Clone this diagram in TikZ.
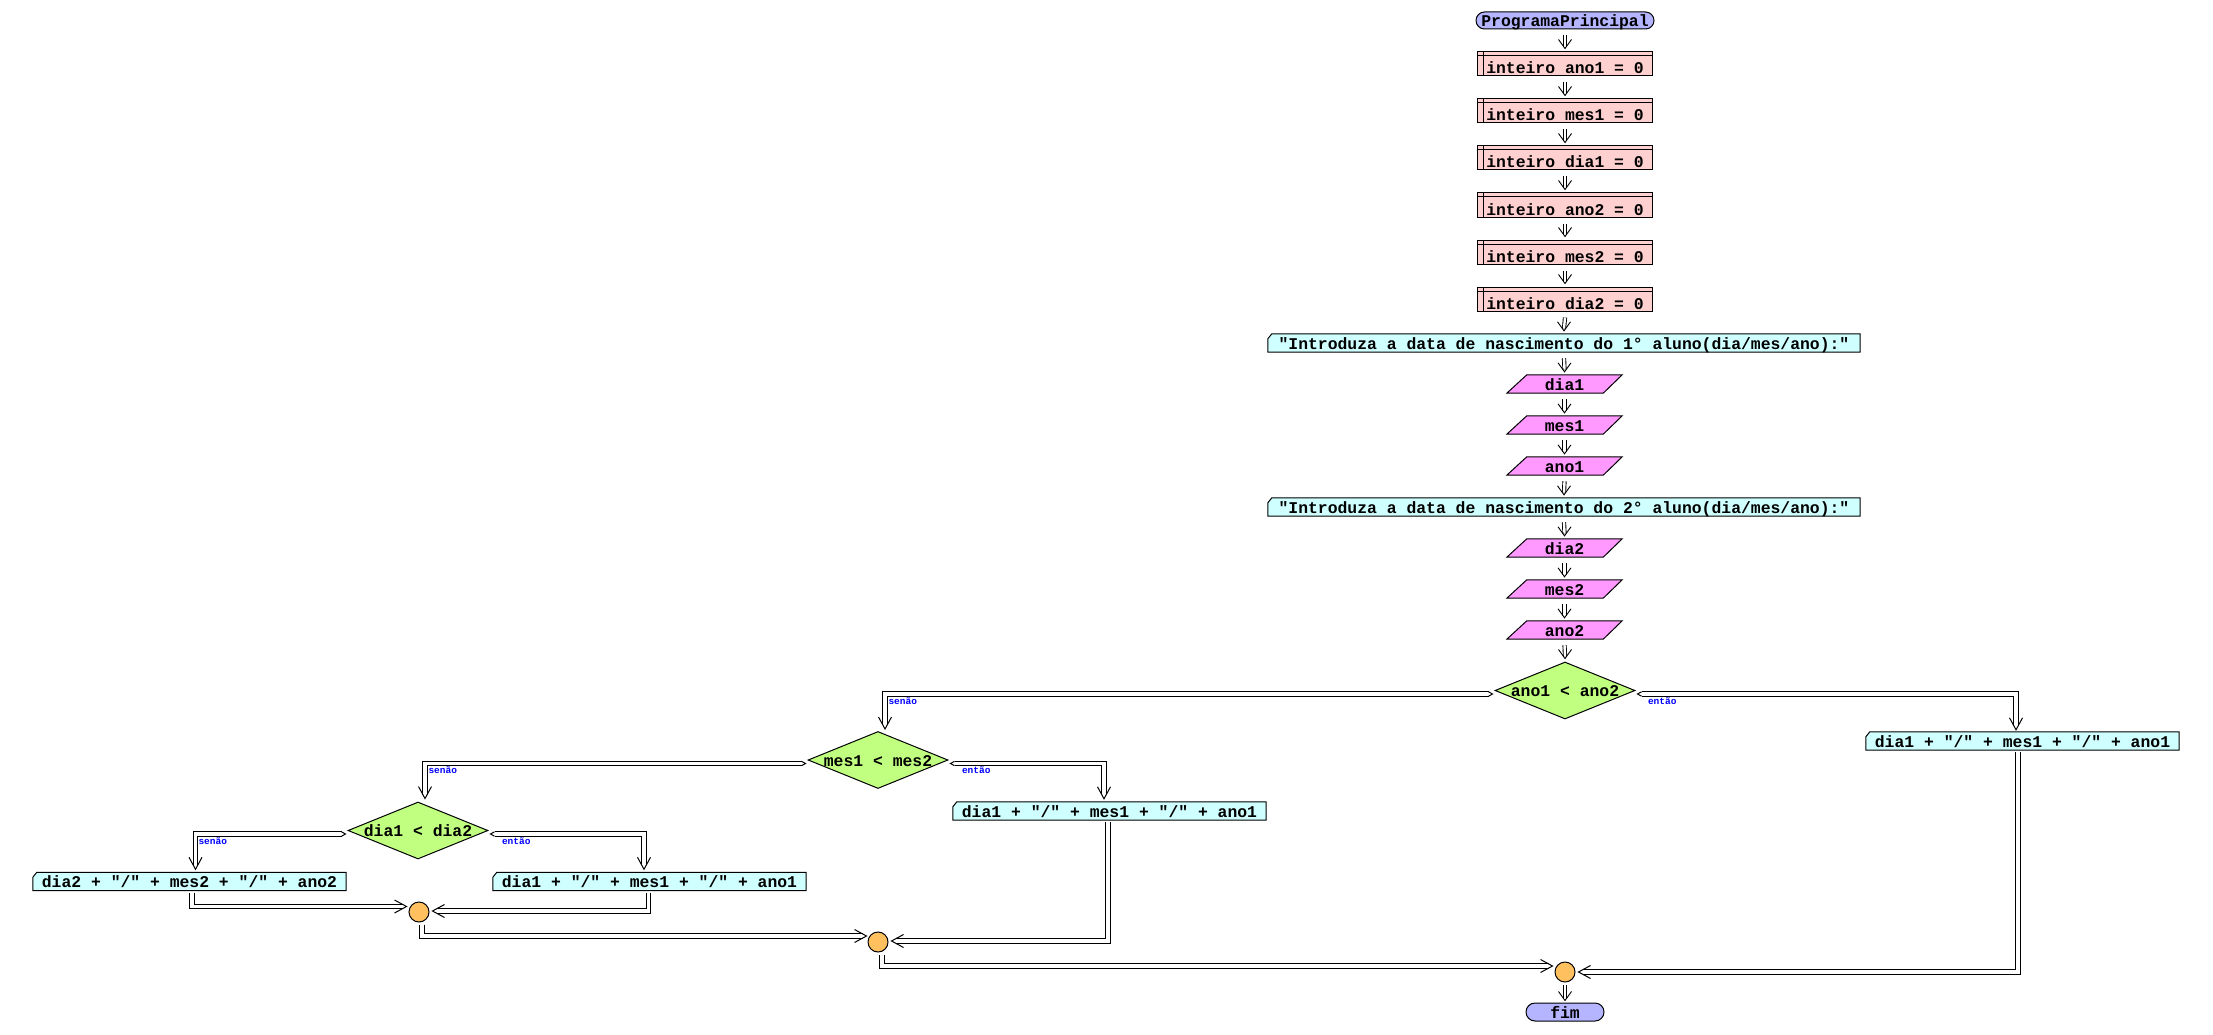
\documentclass[tikz,border=0pt]{standalone}
\usepackage{fontspec}
\setmonofont{Liberation Mono}
\usetikzlibrary{shapes.geometric,backgrounds}
\definecolor{termfill}{RGB}{180,180,255}
\definecolor{varfill}{RGB}{255,208,208}
\definecolor{outfill}{RGB}{208,255,255}
\definecolor{infill}{RGB}{255,153,255}
\definecolor{decfill}{RGB}{192,255,128}
\definecolor{joinfill}{RGB}{255,192,96}
\definecolor{lblblue}{RGB}{0,0,255}
\newcommand{\diagfont}{\ttfamily\bfseries\fontsize{16.4pt}{18pt}\selectfont}
\newcommand{\tagfont}{\ttfamily\bfseries\fontsize{9.5pt}{10pt}\selectfont}
\tikzset{
  basebox/.style={inner sep=0pt, font=\diagfont, text height=12pt, text depth=0pt},
  termbox/.style={basebox, draw, line width=1pt, fill=termfill, rounded corners=8.5pt, minimum height=17pt},
  varbox/.style={basebox, draw, line width=1pt, fill=varfill, minimum width=175pt, minimum height=24pt, text height=20pt,
    path picture={
      \draw[line width=1pt] ([xshift=6pt]path picture bounding box.north west) -- ([xshift=6pt]path picture bounding box.south west);
      \draw[line width=1pt] ([yshift=-4pt]path picture bounding box.north west) -- ([yshift=-4pt]path picture bounding box.north east);}},
  outbox/.style={basebox, minimum height=18pt},
  inbox/.style={basebox, minimum width=115pt, minimum height=18pt},
  outshape/.style={draw, line width=1pt, fill=outfill},
  inshape/.style={draw, line width=1pt, fill=infill},
  decision/.style={basebox, diamond, draw, line width=1pt, fill=decfill, aspect=2.45, minimum width=140pt, minimum height=57pt},
  joinpt/.style={circle, draw, line width=1pt, fill=joinfill, minimum size=20pt, inner sep=0pt},
  flowshaft/.style={double, double distance=2.4pt, line width=0.9pt},
  branchshaft/.style={double, double distance=3.4pt, line width=1pt, line join=miter},
  tipline/.style={line width=1pt, line join=miter},
  tagtext/.style={font=\tagfont, text=lblblue, inner sep=0pt, anchor=north west},
}
% open chevron heads (arms back from the tip point)
\newcommand{\tipD}[1]{\draw[tipline] ([shift={(-6.5pt,12pt)}]#1) -- (#1) -- ([shift={(6.5pt,12pt)}]#1);}
\newcommand{\tipR}[1]{\draw[tipline] ([shift={(-12pt,6.5pt)}]#1) -- (#1) -- ([shift={(-12pt,-6.5pt)}]#1);}
\newcommand{\tipL}[1]{\draw[tipline] ([shift={(12pt,6.5pt)}]#1) -- (#1) -- ([shift={(12pt,-6.5pt)}]#1);}
% pointed starts of branch lines
\newcommand{\startR}[1]{\draw[tipline] ([shift={(4pt,2.2pt)}]#1) -- (#1) -- ([shift={(4pt,-2.2pt)}]#1);}
\newcommand{\startL}[1]{\draw[tipline] ([shift={(-4pt,2.2pt)}]#1) -- (#1) -- ([shift={(-4pt,-2.2pt)}]#1);}
% short straight arrow between stacked nodes
\newcommand{\flowdown}[2]{%
  \path ([yshift=3pt]#2.north) coordinate (ftip);
  \draw[flowshaft] ([yshift=-6pt]#1.south) -- ([yshift=2.3pt]ftip);
  \draw[tipline, line width=0.9pt] ([shift={(-6.5pt,9pt)}]ftip) -- (ftip) -- ([shift={(6.5pt,9pt)}]ftip);}
\begin{document}
\begin{tikzpicture}[x=1pt,y=-1pt]
\useasboundingbox (0,0) rectangle (2213,1035);
% main column
\node[termbox, minimum width=178pt] (pp) at (1565,20.5) {ProgramaPrincipal};
\node[varbox] (v1) at (1565,64) {inteiro ano1 = 0};
\node[varbox] (v2) at (1565,111) {inteiro mes1 = 0};
\node[varbox] (v3) at (1565,158) {inteiro dia1 = 0};
\node[varbox] (v4) at (1565,205) {inteiro ano2 = 0};
\node[varbox] (v5) at (1565,252) {inteiro mes2 = 0};
\node[varbox] (v6) at (1565,299) {inteiro dia2 = 0};
\node[outbox, minimum width=592pt] (out1) at (1564,343) {"Introduza a data de nascimento do 1° aluno(dia/mes/ano):"};
\node[inbox] (in1) at (1564.5,384) {dia1};
\node[inbox] (in2) at (1564.5,425) {mes1};
\node[inbox] (in3) at (1564.5,466) {ano1};
\node[outbox, minimum width=592pt] (out2) at (1564,507) {"Introduza a data de nascimento do 2° aluno(dia/mes/ano):"};
\node[inbox] (in4) at (1564.5,548) {dia2};
\node[inbox] (in5) at (1564.5,589) {mes2};
\node[inbox] (in6) at (1564.5,630) {ano2};
\node[decision] (d1) at (1565,690.5) {ano1 < ano2};
\node[outbox, minimum width=313pt] (rbox) at (2022.5,741) {dia1 + "/" + mes1 + "/" + ano1};
\node[decision] (d2) at (878,760) {mes1 < mes2};
\node[outbox, minimum width=313pt] (mbox) at (1109.5,811) {dia1 + "/" + mes1 + "/" + ano1};
\node[decision] (d3) at (418,830.5) {dia1 < dia2};
\node[outbox, minimum width=313pt] (lbox) at (189.5,881.5) {dia2 + "/" + mes2 + "/" + ano2};
\node[outbox, minimum width=313pt] (lbox2) at (649.5,881.5) {dia1 + "/" + mes1 + "/" + ano1};
\node[joinpt] (c1) at (419,912) {};
\node[joinpt] (c2) at (878,942) {};
\node[joinpt] (c3) at (1565,972) {};
\node[termbox, minimum width=78pt, minimum height=18pt, rounded corners=9pt] (fim) at (1565,1012) {fim};
% shapes behind texts
\begin{scope}[on background layer]
  \foreach \n in {out1,out2,rbox,mbox,lbox,lbox2}
    \path[outshape] ([xshift=4pt]\n.north west) -- (\n.north east) -- (\n.south east) -- (\n.south west) -- ([yshift=-5pt]\n.north west) -- cycle;
  \foreach \n in {in1,in2,in3,in4,in5,in6}
    \path[inshape] ([xshift=20pt]\n.north west) -- (\n.north east) -- ([xshift=-19pt]\n.south east) -- (\n.south west) -- cycle;
\end{scope}
% straight flow
\foreach \a/\b in {pp/v1,v1/v2,v2/v3,v3/v4,v4/v5,v5/v6,v6/out1,out1/in1,in1/in2,in2/in3,in3/out2,out2/in4,in4/in5,in5/in6,in6/d1}
  {\flowdown{\a}{\b}}
\path ([yshift=2pt]fim.north) coordinate (ftip);
\draw[flowshaft] ([yshift=-2pt]c3.south) -- ([yshift=2.3pt]ftip);
\draw[tipline, line width=0.9pt] ([shift={(-6.5pt,9pt)}]ftip) -- (ftip) -- ([shift={(6.5pt,9pt)}]ftip);
% branches of ano1 < ano2
\path ([shift={(-2pt,-3.5pt)}]d1.west) coordinate (s) ([shift={(7pt,2pt)}]d2.north) coordinate (e);
\draw[branchshaft] ([xshift=-4pt]s) -| ([yshift=4pt]e) node[pos=0.5, tagtext, shift={(3pt,-3pt)}] {senão};
\startL{s} \tipD{e}
\path ([shift={(2pt,-3.5pt)}]d1.east) coordinate (s) ([shift={(-6.5pt,2pt)}]rbox.north) coordinate (e);
\draw[branchshaft] ([xshift=4pt]s) -| ([yshift=4pt]e) node[pos=0, tagtext, shift={(6pt,-3pt)}] {então};
\startR{s} \tipD{e}
% branches of mes1 < mes2
\path ([shift={(-2pt,-3.5pt)}]d2.west) coordinate (s) ([shift={(7pt,3pt)}]d3.north) coordinate (e);
\draw[branchshaft] ([xshift=-4pt]s) -| ([yshift=4pt]e) node[pos=0.5, tagtext, shift={(3pt,-3pt)}] {senão};
\startL{s} \tipD{e}
\path ([shift={(2pt,-3.5pt)}]d2.east) coordinate (s) ([shift={(-5.5pt,3pt)}]mbox.north) coordinate (e);
\draw[branchshaft] ([xshift=4pt]s) -| ([yshift=4pt]e) node[pos=0, tagtext, shift={(7pt,-3pt)}] {então};
\startR{s} \tipD{e}
% branches of dia1 < dia2
\path ([shift={(-2pt,-3.5pt)}]d3.west) coordinate (s) ([shift={(6pt,3pt)}]lbox.north) coordinate (e);
\draw[branchshaft] ([xshift=-4pt]s) -| ([yshift=4pt]e) node[pos=0.5, tagtext, shift={(2.5pt,-3pt)}] {senão};
\startL{s} \tipD{e}
\path ([shift={(2pt,-3.5pt)}]d3.east) coordinate (s) ([shift={(-5.5pt,3pt)}]lbox2.north) coordinate (e);
\draw[branchshaft] ([xshift=4pt]s) -| ([yshift=4pt]e) node[pos=0, tagtext, shift={(7pt,-3pt)}] {então};
\startR{s} \tipD{e}
% merges
\path ([shift={(-2pt,5.5pt)}]c1.west) coordinate (e);
\draw[branchshaft] ([shift={(2.5pt,-2pt)}]lbox.south) |- ([xshift=-4pt]e); \tipR{e}
\path ([shift={(3pt,1pt)}]c1.east) coordinate (e);
\draw[branchshaft] ([shift={(-1pt,-2pt)}]lbox2.south) |- ([xshift=4pt]e); \tipL{e}
\path ([shift={(-1pt,6pt)}]c2.west) coordinate (e);
\draw[branchshaft] ([shift={(3pt,-2pt)}]c1.south) |- ([xshift=-4pt]e); \tipR{e}
\path ([shift={(3pt,1pt)}]c2.east) coordinate (e);
\draw[branchshaft] ([shift={(-1.5pt,-2pt)}]mbox.south) |- ([xshift=4pt]e); \tipL{e}
\path ([shift={(-2pt,6pt)}]c3.west) coordinate (e);
\draw[branchshaft] ([shift={(4pt,-2pt)}]c2.south) |- ([xshift=-4pt]e); \tipR{e}
\path ([shift={(3pt,0pt)}]c3.east) coordinate (e);
\draw[branchshaft] ([shift={(-4.5pt,-2pt)}]rbox.south) |- ([xshift=4pt]e); \tipL{e}
\end{tikzpicture}
\end{document}
